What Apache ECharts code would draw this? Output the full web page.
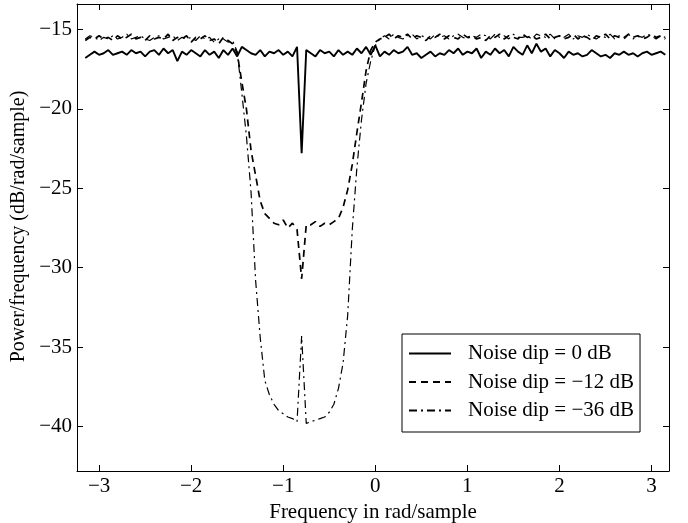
<!DOCTYPE html>
<html>
<head>
<meta charset="utf-8">
<script src="https://cdn.jsdelivr.net/npm/echarts@6/dist/echarts.min.js"></script>
<style>
html, body { margin: 0; padding: 0; background: #fff; }
#chart { width: 688px; height: 523px; }
</style>
</head>
<body>
<div id="chart"></div>
<script>
// frequency grid (rad/sample)
var freq = [
  -3.15,-3.10,-3.05,-3.00,-2.95,-2.90,-2.85,-2.80,-2.75,-2.70,
  -2.65,-2.60,-2.55,-2.50,-2.45,-2.40,-2.35,-2.30,-2.25,-2.20,
  -2.15,-2.10,-2.05,-2.00,-1.95,-1.90,-1.85,-1.80,-1.75,-1.70,
  -1.65,-1.60,-1.55,-1.50,-1.45,-1.40,-1.35,-1.30,-1.25,-1.20,
  -1.15,-1.10,-1.05,-1.00,-0.95,-0.90,-0.85,-0.80,-0.75,-0.70,
  -0.65,-0.60,-0.55,-0.50,-0.45,-0.40,-0.35,-0.30,-0.25,-0.20,
  -0.15,-0.10,-0.05,0.00,0.05,0.10,0.15,0.20,0.25,0.30,
  0.35,0.40,0.45,0.50,0.55,0.60,0.65,0.70,0.75,0.80,
  0.85,0.90,0.95,1.00,1.05,1.10,1.15,1.20,1.25,1.30,
  1.35,1.40,1.45,1.50,1.55,1.60,1.65,1.70,1.75,1.80,
  1.85,1.90,1.95,2.00,2.05,2.10,2.15,2.20,2.25,2.30,
  2.35,2.40,2.45,2.50,2.55,2.60,2.65,2.70,2.75,2.80,
  2.85,2.90,2.95,3.00,3.05,3.10,3.15
];

// Noise dip = 0 dB
var dip0 = [
  -16.8,-16.6,-16.4,-16.6,-16.5,-16.3,-16.6,-16.5,-16.4,-16.6,
  -16.3,-16.5,-16.4,-16.7,-16.4,-16.3,-16.6,-16.2,-16.5,-16.3,
  -17.0,-16.4,-16.6,-16.3,-16.5,-16.7,-16.3,-16.6,-16.4,-16.8,
  -16.3,-16.6,-16.2,-16.7,-16.1,-16.3,-16.5,-16.6,-16.3,-16.7,
  -16.4,-16.5,-16.3,-16.6,-16.4,-16.7,-16.1,-22.8,-16.3,-16.5,
  -16.7,-16.3,-16.5,-16.4,-16.7,-16.3,-16.6,-16.4,-16.6,-16.2,
  -16.5,-16.1,-16.6,-16.0,-16.7,-16.4,-16.6,-16.3,-16.5,-16.4,
  -16.1,-16.6,-16.5,-16.8,-16.6,-16.4,-16.7,-16.5,-16.6,-16.3,
  -16.5,-16.2,-16.6,-16.4,-16.5,-16.2,-16.8,-16.4,-16.6,-16.2,
  -16.5,-16.3,-16.7,-16.1,-16.4,-16.6,-16.0,-16.5,-15.9,-16.4,
  -16.2,-16.7,-16.3,-16.5,-16.8,-16.4,-16.6,-16.5,-16.7,-16.6,
  -16.3,-16.5,-16.7,-16.6,-16.8,-16.5,-16.6,-16.4,-16.6,-16.5,
  -16.7,-16.5,-16.4,-16.6,-16.5,-16.4,-16.6
];

// Noise dip = -12 dB
var dip12 = [
  -15.7,-15.5,-15.6,-15.4,-15.6,-15.5,-15.7,-15.4,-15.6,-15.5,
  -15.3,-15.6,-15.5,-15.7,-15.4,-15.6,-15.5,-15.6,-15.3,-15.7,
  -15.5,-15.6,-15.4,-15.8,-15.5,-15.6,-15.4,-15.7,-15.6,-15.9,
  -15.5,-15.7,-15.9,-16.5,-18.3,-20.0,-22.6,-24.2,-25.8,-26.6,
  -26.9,-27.2,-27.3,-27.0,-27.5,-27.2,-27.6,-30.7,-27.3,-27.3,
  -27.1,-27.4,-27.2,-27.3,-27.1,-26.9,-26.2,-25.1,-23.5,-21.5,
  -19.6,-17.6,-16.3,-15.8,-15.6,-15.5,-15.3,-15.6,-15.4,-15.5,
  -15.3,-15.6,-15.4,-15.5,-15.7,-15.4,-15.5,-15.3,-15.6,-15.4,
  -15.5,-15.6,-15.3,-15.5,-15.4,-15.6,-15.5,-15.7,-15.4,-15.5,
  -15.3,-15.6,-15.4,-15.5,-15.6,-15.3,-15.5,-15.4,-15.6,-15.5,
  -15.3,-15.6,-15.5,-15.4,-15.6,-15.5,-15.3,-15.6,-15.4,-15.5,
  -15.7,-15.4,-15.5,-15.3,-15.6,-15.4,-15.5,-15.6,-15.3,-15.5,
  -15.4,-15.6,-15.5,-15.3,-15.5,-15.4,-15.6
];

// Noise dip = -36 dB
var dip36 = [
  -15.6,-15.4,-15.5,-15.7,-15.5,-15.6,-15.4,-15.6,-15.5,-15.3,
  -15.6,-15.5,-15.4,-15.6,-15.7,-15.5,-15.4,-15.6,-15.5,-15.4,
  -15.7,-15.5,-15.6,-15.5,-15.7,-15.4,-15.6,-15.5,-15.8,-15.6,
  -15.6,-15.8,-15.7,-16.4,-19.0,-21.7,-25.2,-30.8,-34.4,-37.1,
  -38.0,-38.6,-39.0,-39.2,-39.4,-39.5,-39.7,-34.3,-39.8,-39.7,
  -39.6,-39.5,-39.4,-39.1,-38.6,-37.6,-36.0,-33.0,-27.6,-23.7,
  -20.7,-18.4,-17.0,-16.0,-15.6,-15.4,-15.6,-15.3,-15.5,-15.6,
  -15.4,-15.3,-15.6,-15.4,-15.5,-15.6,-15.3,-15.5,-15.4,-15.6,
  -15.4,-15.3,-15.5,-15.6,-15.4,-15.5,-15.3,-15.4,-15.6,-15.3,
  -15.5,-15.4,-15.6,-15.3,-15.5,-15.5,-15.4,-15.6,-15.3,-15.4,
  -15.5,-15.3,-15.6,-15.4,-15.5,-15.3,-15.6,-15.4,-15.5,-15.3,
  -15.5,-15.6,-15.4,-15.5,-15.3,-15.6,-15.4,-15.5,-15.3,-15.6,
  -15.4,-15.5,-15.3,-15.4,-15.6,-15.4,-15.5
];

var seriesNames = ['Noise dip = 0 dB', 'Noise dip = \u221212 dB', 'Noise dip = \u221236 dB'];
var xTicks = [-3, -2, -1, 0, 1, 2, 3];
var yTicks = [-40, -35, -30, -25, -20, -15];

var fontName = '"Liberation Serif", "Times New Roman", serif';

function pairs(ys){
	var out = [];
	for(var i = 0; i < freq.length; i++){
		out.push([freq[i], ys[i]]);
	}
	return out;
}
function minusFmt(v){
	return String(v).replace('-', '\u2212');
}

var chart = echarts.init(document.getElementById('chart'), null, {renderer: 'canvas'});

var baseX = {
	type: 'value', min: -3.24, max: 3.19,
	axisLine: {show: true, onZero: false, lineStyle: {color: '#000', width: 1}},
	axisTick: {show: true, inside: true, length: 6, customValues: xTicks, lineStyle: {color: '#000'}},
	splitLine: {show: false}
};
var baseY = {
	type: 'value', min: -42.8, max: -13.4,
	axisLine: {show: true, onZero: false, lineStyle: {color: '#000', width: 1}},
	axisTick: {show: true, inside: true, length: 6, customValues: yTicks, lineStyle: {color: '#000'}},
	splitLine: {show: false}
};

var option = {
	animation: false,
	backgroundColor: '#fff',
	textStyle: {fontFamily: fontName},
	grid: {left: 77, right: 19, top: 4, bottom: 52, containLabel: false, outerBoundsMode: 'none'},
	legend: {
		data: seriesNames,
		orient: 'vertical',
		left: 402, top: 334,
		padding: [9, 6, 11, 6],
		itemWidth: 42, itemHeight: 14, itemGap: 7.5,
		borderColor: '#000', borderWidth: 1, backgroundColor: '#fff',
		itemStyle: {opacity: 0},
		textStyle: {fontFamily: fontName, fontSize: 21, color: '#000', padding: [0, 0, 0, 12]}
	},
	series: []
};

option.xAxis = [
	Object.assign({}, baseX, {
		position: 'bottom',
		name: 'Frequency in rad/sample', nameLocation: 'middle', nameGap: 13,
		nameTextStyle: {fontFamily: fontName, fontSize: 21, color: '#000'},
		axisLabel: {show: true, customValues: xTicks, margin: 5, fontFamily: fontName, fontSize: 21, color: '#000', formatter: minusFmt}
	}),
	Object.assign({}, baseX, {position: 'top', axisLabel: {show: false}})
];
option.yAxis = [
	Object.assign({}, baseY, {
		position: 'left',
		name: 'Power/frequency (dB/rad/sample)', nameLocation: 'middle', nameGap: 30,
		nameTextStyle: {fontFamily: fontName, fontSize: 20, color: '#000', padding: [0, 0, 0, 22]},
		axisLabel: {show: true, customValues: yTicks, margin: 5, fontFamily: fontName, fontSize: 21, color: '#000', formatter: minusFmt}
	}),
	Object.assign({}, baseY, {position: 'right', axisLabel: {show: false}})
];

var styles = [
	{type: 'solid', width: 1.9},
	{type: [7, 5], width: 1.7},
	{type: [8, 4, 2, 4], width: 1.2}
];
var allData = [dip0, dip12, dip36];
for(var s = 0; s < 3; s++){
	option.series.push({
		name: seriesNames[s],
		type: 'line',
		xAxisIndex: 0, yAxisIndex: 0,
		showSymbol: false, symbol: 'none',
		lineStyle: {color: '#000', width: styles[s].width, type: styles[s].type},
		itemStyle: {color: '#000'},
		data: pairs(allData[s])
	});
}

chart.setOption(option);
</script>
</body>
</html>
